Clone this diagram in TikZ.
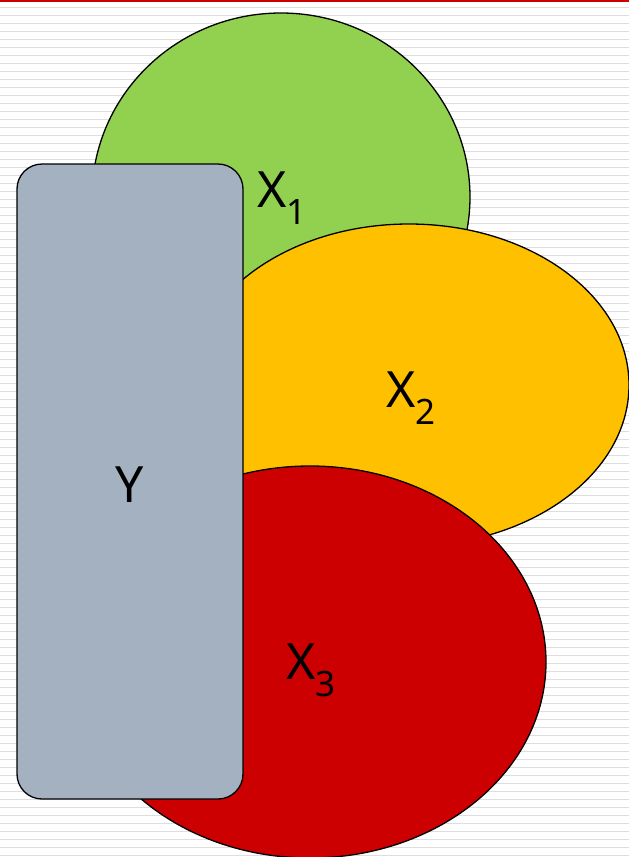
\documentclass[tikz,border=0pt]{standalone}
\usepackage{fontspec}
\setmainfont{Noto Sans}
\definecolor{cgreen}{RGB}{146,208,80}
\definecolor{cyellow}{RGB}{255,192,0}
\definecolor{cred}{RGB}{204,0,0}
\definecolor{cgray}{RGB}{163,177,192}
\definecolor{stripe}{RGB}{222,222,222}
\begin{document}
\begin{tikzpicture}[x=1pt,y=-1pt,
  blob/.style={draw=black,line width=1.3pt},
  lbl/.style={font=\fontsize{50}{60}\selectfont}]
\useasboundingbox (0,0) rectangle (629,857);
\fill[white] (0,0) rectangle (629,857);
\foreach \k in {0,...,106} {
  \draw[stripe,line width=1.8pt] (0,{7.5+8*\k}) -- (629,{7.5+8*\k});
}
\fill[cred] (0,0) rectangle (629,1.6);
\draw[blob,fill=cgreen] (281,197) ellipse [x radius=189, y radius=184];
\draw[blob,fill=cyellow] (409,385) ellipse [x radius=220, y radius=161];
\draw[blob,fill=cred] (310,662) ellipse [x radius=236, y radius=196];
\node[blob,fill=cgray,rounded corners=25pt,minimum width=226pt,minimum height=635pt,inner sep=0pt] (y) at (130,481.5) {};
\node[lbl] (ylbl) at (130,485) {Y};
\node[lbl] (x1) at (282,198) {X\textsubscript{1}};
\node[lbl] (x2) at (411,398) {X\textsubscript{2}};
\node[lbl] (x3) at (311,670) {X\textsubscript{3}};
\end{tikzpicture}
\end{document}
